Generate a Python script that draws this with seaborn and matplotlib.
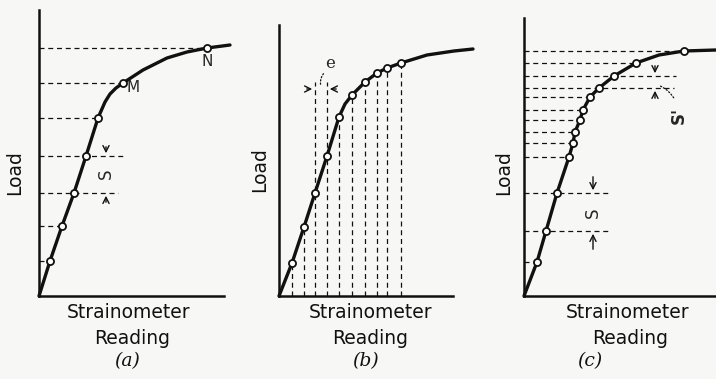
import numpy as np
import matplotlib
matplotlib.use("Agg")
import matplotlib.pyplot as plt
import seaborn as sns

sns.set_style("white")
plt.rcParams['font.family'] = ['DejaVu Sans']

# ================================
# Data (pixel units from each origin)
# ================================
# panel (a)
pts_a_x = [11, 23, 35, 47, 59, 84, 168]
pts_a_y = [35, 70, 103, 140, 178, 213, 248]
curve_a_x = [0, 11, 23, 35, 47, 59, 66, 71, 77, 84, 104, 128, 148, 168, 191]
curve_a_y = [0, 35, 70, 103, 140, 178, 194, 202, 208, 213, 226, 238, 244, 248, 251]
hline_end_a = [11, 23, 79, 85, 59, 84, 168]
labels_a = ["", "", "", "", "", "M", "N"]

# panel (b)
pts_b_x = [13, 25, 36, 48, 60, 73, 86, 98, 108, 122]
pts_b_y = [33, 69, 103, 140, 179, 201, 214, 223, 228, 233]
curve_b_x = [0, 13, 25, 36, 48, 60, 66, 73, 86, 98, 108, 122, 148, 175, 194]
curve_b_y = [0, 33, 69, 103, 140, 179, 192, 201, 214, 223, 228, 233, 241, 245, 247]
vline_top_b = [33, 69, 214, 214, 179, 201, 214, 223, 228, 233]

# panel (c)
pts_c_x = [13, 22, 33, 45, 49, 51, 56, 59, 66, 75, 90, 112, 160]
pts_c_y = [34, 65, 103, 139, 153, 164, 176, 186, 199, 208, 220, 233, 245]
curve_c_x = [0, 13, 22, 33, 45, 49, 51, 56, 59, 66, 75, 90, 112, 135, 160, 192]
curve_c_y = [0, 34, 65, 103, 139, 153, 164, 176, 186, 199, 208, 220, 233, 241, 245, 246]
hline_end_c = [13, 87, 85, 45, 49, 51, 56, 59, 66, 150, 152, 112, 160]

FIG_W, FIG_H = 716, 379
fig = plt.figure(figsize=(FIG_W / 100, FIG_H / 100), dpi=100)
fig.patch.set_facecolor("#f7f7f5")

INK = "#111111"
DASH = (0, (4, 3))


def make_axes(ox, oy, w, h, xspine, yspine):
    ax = fig.add_axes([ox / FIG_W, (FIG_H - oy) / FIG_H, w / FIG_W, h / FIG_H])
    ax.set_xlim(0, w)
    ax.set_ylim(0, h)
    ax.patch.set_alpha(0)
    for s in ["top", "right"]:
        ax.spines[s].set_visible(False)
    ax.spines["left"].set_bounds(0, yspine)
    ax.spines["bottom"].set_bounds(0, xspine)
    for s in ["left", "bottom"]:
        ax.spines[s].set_linewidth(1.8)
        ax.spines[s].set_color(INK)
    ax.set_xticks([])
    ax.set_yticks([])
    ax.set_xlabel("")
    ax.set_ylabel("")
    return ax


def draw_curve(ax, cx, cy, px, py):
    sns.lineplot(x=cx, y=cy, sort=False, ax=ax, color=INK, lw=2.4, clip_on=False, zorder=3)
    sns.scatterplot(x=px, y=py, ax=ax, s=26, facecolor="white", edgecolor=INK,
                    linewidth=1.3, zorder=5, clip_on=False)


def arrow(ax, x, y0, y1, horiz=False):
    props = dict(arrowstyle="->", lw=1.0, color=INK, mutation_scale=11)
    if horiz:
        ax.annotate("", xy=(y1, x), xytext=(y0, x), arrowprops=props)
    else:
        ax.annotate("", xy=(x, y1), xytext=(x, y0), arrowprops=props)


# ---- (a)
ax_a = make_axes(39, 296, 200, 290, 185, 286)
ax_a.hlines(pts_a_y, 0, hline_end_a, colors=INK, lw=0.9, linestyles=DASH)
draw_curve(ax_a, curve_a_x, curve_a_y, pts_a_x, pts_a_y)
for x, y, t in zip(pts_a_x, pts_a_y, labels_a):
    if t == "M":
        ax_a.text(x + 4, y - 4, t, fontsize=11, va="center", ha="left")
    elif t == "N":
        ax_a.text(x, y - 14, t, fontsize=11, va="center", ha="center")
arrow(ax_a, 67, 152, 140)
arrow(ax_a, 67, 91, 103)
ax_a.text(67, 122, "S", rotation=90, fontsize=12, ha="center", va="center")

# ---- (b)
ax_b = make_axes(279, 296, 200, 290, 174, 271)
ax_b.vlines(pts_b_x, 0, vline_top_b, colors=INK, lw=0.9, linestyles=DASH)
draw_curve(ax_b, curve_b_x, curve_b_y, pts_b_x, pts_b_y)
arrow(ax_b, 207, 25, 36, horiz=True)
arrow(ax_b, 207, 60, 48, horiz=True)
ax_b.text(51, 232, "e", fontsize=12, ha="center", va="center", family="DejaVu Serif")
ax_b.annotate("", xy=(47, 225), xytext=(42, 209),
              arrowprops=dict(arrowstyle="-", lw=0.9, ls=":", color=INK,
                              connectionstyle="arc3,rad=-0.3"))

# ---- (c)
ax_c = make_axes(524, 296, 192, 290, 192, 278)
ax_c.hlines(pts_c_y, 0, hline_end_c, colors=INK, lw=0.9, linestyles=DASH)
draw_curve(ax_c, curve_c_x, curve_c_y, pts_c_x, pts_c_y)
arrow(ax_c, 69, 122, 103)
arrow(ax_c, 69, 44, 65)
ax_c.text(69, 83, "S", rotation=90, fontsize=12, ha="center", va="center")
arrow(ax_c, 131, 233, 220)
arrow(ax_c, 131, 195, 208)
ax_c.text(155, 181, "S'", rotation=90, fontsize=12, ha="center", va="center", weight="bold")
ax_c.annotate("", xy=(152, 194), xytext=(134, 211),
              arrowprops=dict(arrowstyle="-", lw=0.9, ls=":", color=INK,
                              connectionstyle="arc3,rad=-0.2"))


# ---- labels (figure pixel coords)
def ftext(x, y, s, **kw):
    fig.text(x / FIG_W, 1 - y / FIG_H, s, ha="center", va="center", color=INK, **kw)


for lx, ly in [(15, 173), (260, 170), (504, 173)]:
    ftext(lx, ly, "Load", rotation=90, fontsize=13.5)
for sx, rx, px, tag in [(129, 132, 127, "(a)"), (371, 370, 366, "(b)"), (628, 630, 590, "(c)")]:
    ftext(sx, 313, "Strainometer", fontsize=13.5)
    ftext(rx, 338, "Reading", fontsize=13.5)
    ftext(px, 361, tag, fontsize=13.5, family="DejaVu Serif", style="italic")

fig.savefig("out.png", dpi=100, facecolor=fig.get_facecolor())
